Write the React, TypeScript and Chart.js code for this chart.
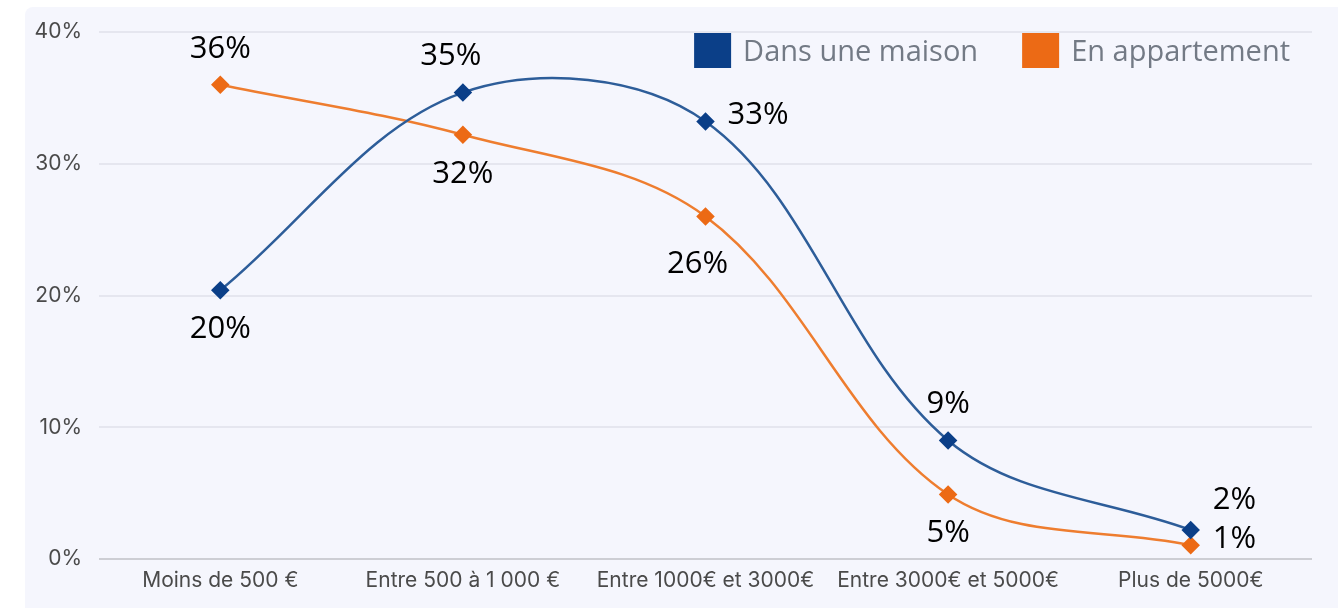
import React, { useEffect, useRef } from "react";
import { Chart, registerables } from "chart.js";

Chart.register(...registerables);

const categories = [
  "Moins de 500 €",
  "Entre 500 à 1 000 €",
  "Entre 1000€ et 3000€",
  "Entre 3000€ et 5000€",
  "Plus de 5000€",
];
const maisonValues = [20.4, 35.4, 33.2, 9.0, 2.2];
const maisonLabels = ["20%", "35%", "33%", "9%", "2%"];
const maisonAnchors = ["bottom", "topLeft", "right", "top", "topRight"];
const appartValues = [36.0, 32.2, 26.0, 4.9, 1.05];
const appartLabels = ["36%", "32%", "26%", "5%", "1%"];
const appartAnchors = ["top", "bottom", "bottomLeft", "bottom", "right"];
const yTicks = [0, 10, 20, 30, 40];
const seriesNames = ["Dans une maison", "En appartement"];
const BLUE = "#0b3f88";
const ORANGE = "#ec6a15";

const labelPlugin = {
  id: "pointLabels",
  afterDatasetsDraw(chart: any) {
    const ctx = chart.ctx;
    ctx.save();
    ctx.font = "31px 'Open Sans'";
    ctx.fillStyle = "#000";
    ctx.textBaseline = "middle";
    chart.data.datasets.forEach((ds: any, di: number) => {
      const meta = chart.getDatasetMeta(di);
      meta.data.forEach((pt: any, i: number) => {
        const a = ds.anchors[i];
        const txt = ds.labels[i];
        let x = pt.x, y = pt.y;
        if (a === "top") { ctx.textAlign = "center"; y -= 36; }
        else if (a === "topLeft") { ctx.textAlign = "center"; x -= 12; y -= 36; }
        else if (a === "bottom") { ctx.textAlign = "center"; y += 39; }
        else if (a === "bottomLeft") { ctx.textAlign = "center"; x -= 8; y += 48; }
        else if (a === "right") { ctx.textAlign = "left"; x += 22; y -= 6; }
        else if (a === "topRight") { ctx.textAlign = "left"; x += 22; y -= 30; }
        ctx.fillText(txt, x, y);
      });
    });
    ctx.restore();
  },
};

const legendPlugin = {
  id: "customLegend",
  afterDraw(chart: any) {
    const ctx = chart.ctx;
    const area = chart.chartArea;
    ctx.save();
    ctx.font = "29px 'Open Sans'";
    ctx.textBaseline = "middle";
    ctx.textAlign = "left";
    const box = 37, gapText = 12, gapItem = 44;
    const widths = seriesNames.map((n) => ctx.measureText(n).width);
    const total = widths.reduce((s, w) => s + box + gapText + w, 0) + gapItem * (seriesNames.length - 1);
    let x = area.right - 22 - total;
    const top = area.top + 1;
    const colors = [BLUE, ORANGE];
    seriesNames.forEach((n, i) => {
      ctx.fillStyle = colors[i];
      ctx.fillRect(x, top, box, 35);
      ctx.fillStyle = "#737a85";
      ctx.fillText(n, x + box + gapText, top + 20);
      x += box + gapText + widths[i] + gapItem;
    });
    ctx.restore();
  },
};

export default function App() {
  const ref = useRef<HTMLCanvasElement>(null);
  useEffect(() => {
    const chart = new Chart(ref.current!, {
      type: "line",
      data: {
        labels: categories,
        datasets: [
          {
            label: seriesNames[0],
            data: maisonValues,
            borderColor: "#2d5d99",
            backgroundColor: BLUE,
            pointBackgroundColor: BLUE,
            pointBorderColor: BLUE,
            borderWidth: 2.5,
            pointStyle: "rectRot",
            pointRadius: 7.5,
            tension: 0.35,
            labels: maisonLabels,
            anchors: maisonAnchors,
          } as any,
          {
            label: seriesNames[1],
            data: appartValues,
            borderColor: "#ee7d2f",
            backgroundColor: ORANGE,
            pointBackgroundColor: ORANGE,
            pointBorderColor: ORANGE,
            borderWidth: 2.5,
            pointStyle: "rectRot",
            pointRadius: 7.5,
            tension: 0.35,
            labels: appartLabels,
            anchors: appartAnchors,
          } as any,
        ],
      },
      options: {
        animation: false,
        responsive: false,
        layout: { padding: { left: 0, top: 32, right: 26, bottom: 0 } },
        plugins: { legend: { display: false }, tooltip: { enabled: false } },
        scales: {
          x: {
            offset: true,
            grid: { display: false, drawTicks: false },
            border: { display: false },
            ticks: { color: "#4a4a4a", font: { family: "Inter", size: 21 }, padding: 9, maxRotation: 0, autoSkip: false },
            afterFit: (s: any) => { s.height = 49; },
          },
          y: {
            min: 0,
            max: 40,
            afterBuildTicks: (s: any) => { s.ticks = yTicks.map((v) => ({ value: v })); },
            grid: {
              color: (c: any) => (c.tick && c.tick.value === 0 ? "#cdced4" : "#e5e6ef"),
              lineWidth: 2,
              drawTicks: false,
            },
            border: { display: false },
            ticks: { color: "#4a4a4a", font: { family: "Inter", size: 21 }, padding: 17, callback: (v: any) => v + "%" },
            afterFit: (s: any) => { s.width = 99; },
          },
        },
      },
      plugins: [labelPlugin, legendPlugin],
    });
    return () => chart.destroy();
  }, []);
  return (
    <div style={{ position: "fixed", left: 0, top: 0, width: 1338, height: 608, background: "#fff", overflow: "hidden" }}>
      <div style={{ position: "absolute", left: 25, top: 7, width: 1330, height: 610, background: "#f5f6fd", borderRadius: 8 }} />
      <canvas ref={ref} width={1338} height={608} style={{ position: "absolute", left: 0, top: 0 }} />
    </div>
  );
}
